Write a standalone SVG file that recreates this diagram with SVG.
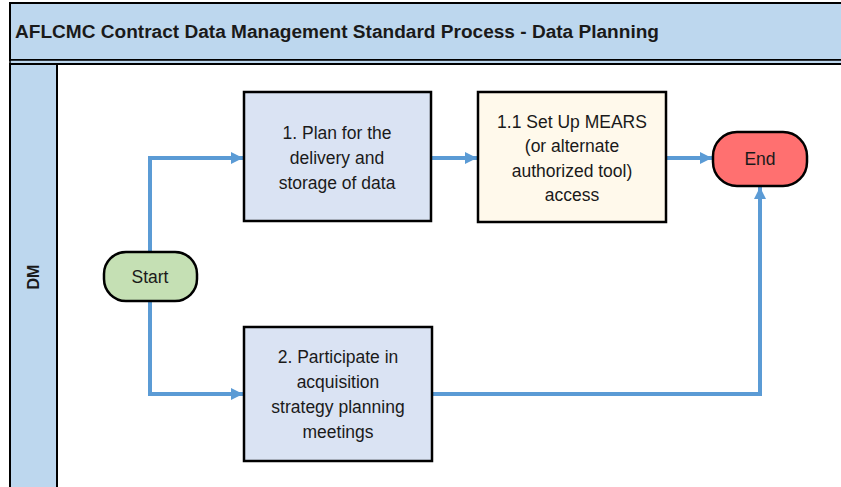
<svg xmlns="http://www.w3.org/2000/svg" width="841" height="487" viewBox="0 0 841 487">
<defs>
<style>
.lane{fill:#BDD7EE;stroke:#000;stroke-width:2}
.box{stroke:#000;stroke-width:2.5}
.t{font-family:"Liberation Sans",Arial,sans-serif;font-size:17.5px;fill:#1a1a1a;text-anchor:middle;dominant-baseline:central}
.conn{fill:none;stroke:#5B9BD5;stroke-width:4;marker-end:url(#ah)}
</style>
<marker id="ah" markerUnits="userSpaceOnUse" markerWidth="13" markerHeight="13" refX="12" refY="6" orient="auto">
<path d="M0,0 L12,6 L0,12 z" fill="#5B9BD5"/>
</marker>
</defs>
<rect width="841" height="487" fill="#fff"/>
<g id="pool">
<rect x="10" y="3" width="840" height="57" class="lane"/>
<rect x="10" y="60" width="840" height="4" fill="#BDD7EE" stroke="#000" stroke-width="1.5"/>
<rect x="10" y="64" width="840" height="430" fill="#fff" stroke="#000" stroke-width="2"/>
<rect x="10" y="64" width="47" height="430" class="lane"/>
<text x="15" y="32" font-family="'Liberation Sans',Arial,sans-serif" font-size="17.5" font-weight="bold" fill="#1a1a1a" dominant-baseline="central" textLength="644" lengthAdjust="spacingAndGlyphs">AFLCMC Contract Data Management Standard Process - Data Planning</text>
<text x="33" y="277" transform="rotate(-90 33 277)" class="t" font-weight="bold" style="font-size:16px">DM</text>
</g>
<g id="connectors">
<path class="conn" d="M150,252 V158 H243"/>
<path class="conn" d="M150,301 V394 H243"/>
<path class="conn" d="M431,158 H477"/>
<path class="conn" d="M666,158 H712"/>
<path class="conn" d="M432,394 H760 V187"/>
</g>
<g id="start">
<rect x="104" y="252" width="93" height="49" rx="22" fill="#C5E0B4" class="box"/>
<text x="150" y="277" class="t">Start</text>
</g>
<g id="plan">
<rect x="244" y="92" width="187" height="129" fill="#DAE3F3" class="box"/>
<text class="t"><tspan x="337" y="133">1. Plan for the</tspan><tspan x="337" y="158">delivery and</tspan><tspan x="337" y="183">storage of data</tspan></text>
</g>
<g id="mears">
<rect x="478" y="92" width="188" height="130" fill="#FFF9EB" class="box"/>
<text class="t"><tspan x="572" y="122">1.1 Set Up MEARS</tspan><tspan x="572" y="146">(or alternate</tspan><tspan x="572" y="171">authorized tool)</tspan><tspan x="572" y="195">access</tspan></text>
</g>
<g id="end">
<rect x="713" y="132" width="94" height="54" rx="24" fill="#FF7070" class="box"/>
<text x="760" y="159" class="t">End</text>
</g>
<g id="participate">
<rect x="244" y="327" width="188" height="134" fill="#DAE3F3" class="box"/>
<text class="t"><tspan x="338" y="357">2. Participate in</tspan><tspan x="338" y="382">acquisition</tspan><tspan x="338" y="407">strategy planning</tspan><tspan x="338" y="432">meetings</tspan></text>
</g>
</svg>
